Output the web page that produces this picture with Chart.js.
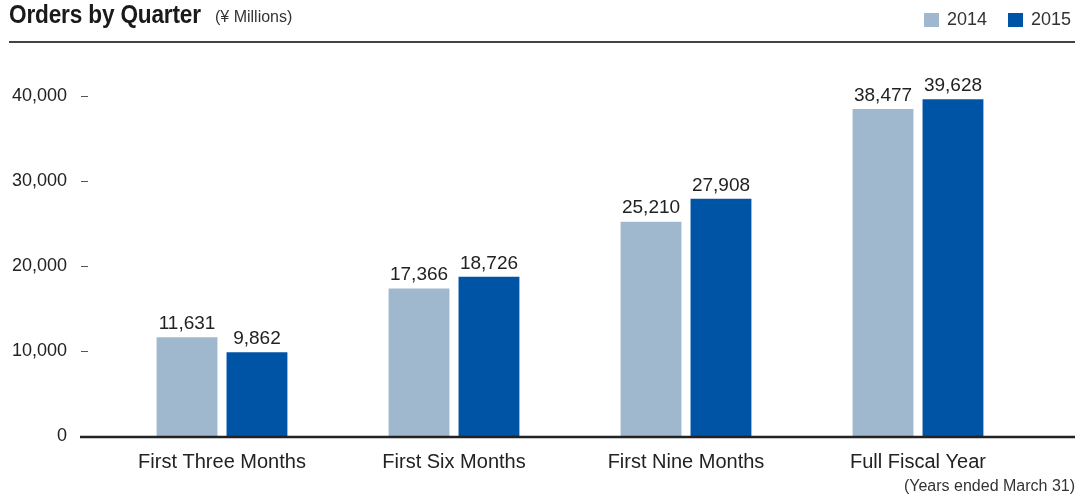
<!DOCTYPE html>
<html>
<head>
<meta charset="utf-8">
<script src="https://cdn.jsdelivr.net/npm/chart.js@4.4.0/dist/chart.umd.min.js"></script>
<style>
  body { margin: 0; background: #fff; font-family: "Liberation Sans", Arial, sans-serif; color: #222; }
  #wrap { position: relative; width: 1082px; height: 496px; }
  #wrap canvas { position: absolute; left: 0; top: 0; }
  .title { position: absolute; left: 9px; top: 0px; height: 32px; white-space: nowrap; }
  .title b { position: absolute; left: 0; top: -1px; font-size: 26px; line-height: 30px; font-weight: bold; color: #1a1a1a;
             transform: scaleX(0.87); transform-origin: 0 0; letter-spacing: -0.2px; }
  .title span { position: absolute; left: 206px; top: 7px; font-size: 16px; line-height: 20px; color: #333; }
  .rule { position: absolute; left: 9px; top: 41px; width: 1066px; height: 2px; background: #444; }
  .legend { position: absolute; right: 11px; top: 9px; font-size: 18px; color: #333; display: flex; }
  .legend div { display: flex; align-items: center; margin-left: 21px; }
  .legend i { display: inline-block; width: 15px; height: 14px; margin-right: 8px; }
  .note { position: absolute; right: 7px; top: 477px; font-size: 16px; color: #333; }
</style>
</head>
<body>
<div id="wrap">
  <canvas id="chart1" width="1082" height="496"></canvas>
  <div class="title"><b>Orders by Quarter</b><span>(¥ Millions)</span></div>
  <div class="rule"></div>
  <div class="legend" id="legend1"></div>
  <div class="note">(Years ended March 31)</div>
</div>
<script>
// Orders by Quarter, ¥ Millions
const labels1 = ['First Three Months', 'First Six Months', 'First Nine Months', 'Full Fiscal Year'];
const seriesNames1 = ['2014', '2015'];
const orders2014 = [11631, 17366, 25210, 38477];
const orders2015 = [9862, 18726, 27908, 39628];
const yTicks1 = [0, 10000, 20000, 30000, 40000];
const colors1 = ['#a0b8cd', '#0054a6'];

// html legend
document.getElementById('legend1').innerHTML = seriesNames1.map(function(name, i) {
    return '<div><i style="background:' + colors1[i] + '"></i>' + name + '</div>';
}).join('');

// baseline, small tick dashes and the value labels
const decorPlugin = {
    id: 'decor',
    afterDatasetsDraw: function(chart) {
        const ctx = chart.ctx;
        const y = chart.scales.y;
        ctx.save();
        ctx.strokeStyle = '#555';
        ctx.lineWidth = 1;
        yTicks1.forEach(function(v) {
            if (v === 0) return;
            const py = Math.round(y.getPixelForValue(v)) + 0.5;
            ctx.beginPath();
            ctx.moveTo(81, py);
            ctx.lineTo(88, py);
            ctx.stroke();
        });
        const by = y.getPixelForValue(0) + 1;
        ctx.strokeStyle = '#222';
        ctx.lineWidth = 2.5;
        ctx.beginPath();
        ctx.moveTo(80, by);
        ctx.lineTo(1075, by);
        ctx.stroke();

        ctx.fillStyle = '#222';
        ctx.font = '19px "Liberation Sans", Arial, sans-serif';
        ctx.textAlign = 'center';
        ctx.textBaseline = 'bottom';
        chart.data.datasets.forEach(function(ds, i) {
            chart.getDatasetMeta(i).data.forEach(function(bar, j) {
                ctx.fillText(ds.data[j].toLocaleString('en-US'), bar.x, bar.y - 4);
            });
        });
        ctx.restore();
    }
};

const ctx1 = document.getElementById('chart1').getContext('2d');
const chart1 = new Chart(ctx1, {
    type: 'bar',
    data: {
        labels: labels1,
        datasets: [{
            label: seriesNames1[0],
            data: orders2014,
            backgroundColor: colors1[0]
        }, {
            label: seriesNames1[1],
            data: orders2015,
            backgroundColor: colors1[1]
        }]
    },
    options: {
        responsive: false,
        animation: false,
        devicePixelRatio: 1,
        categoryPercentage: 0.603,
        barPercentage: 0.87,
        layout: { padding: { top: 96, right: 48, bottom: 0, left: 0 } },
        plugins: {
            legend: { display: false },
            tooltip: { enabled: false }
        },
        scales: {
            x: {
                grid: { display: false },
                border: { display: false },
                ticks: {
                    color: '#222',
                    padding: 6,
                    font: { family: '"Liberation Sans", Arial, sans-serif', size: 20 }
                },
                afterFit: function(scale) { scale.height = 60; }
            },
            y: {
                min: 0,
                max: 40000,
                grid: { display: false },
                border: { display: false },
                afterBuildTicks: function(scale) {
                    scale.ticks = yTicks1.map(function(v) { return { value: v }; });
                },
                ticks: {
                    color: '#222',
                    padding: 31,
                    font: { family: '"Liberation Sans", Arial, sans-serif', size: 18 },
                    callback: function(v) { return v.toLocaleString('en-US'); }
                },
                afterFit: function(scale) { scale.width = 106; }
            }
        }
    },
    plugins: [decorPlugin]
});
</script>
</body>
</html>
